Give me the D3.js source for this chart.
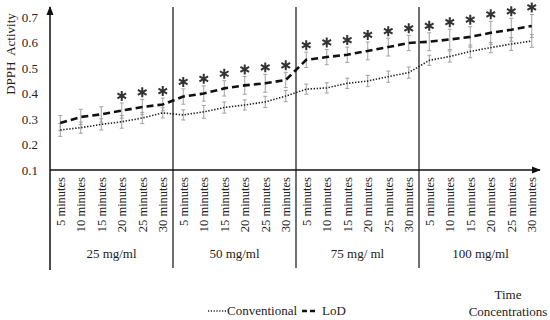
<!DOCTYPE html>
<html>
<head>
<meta charset="utf-8">
<script src="https://cdn.jsdelivr.net/npm/d3@7"></script>
<style>
  body { margin: 0; background: #fff; }
  text { font-family: "Liberation Serif", "Times New Roman", serif; fill: #222; }
</style>
</head>
<body>
<svg id="chart" width="550" height="320"></svg>
<script>
// concentrations and time points
const groups = ["25 mg/ml", "50 mg/ml", "75 mg/ ml", "100 mg/ml"];
const times = ["5 minutes", "10 minutes", "15 minutes", "20 minutes", "25 minutes", "30 minutes"];
const yTicks = [0.1, 0.2, 0.3, 0.4, 0.5, 0.6, 0.7];

// DPPH activity (24 points: 4 groups x 6 times)
const conventional = [0.257, 0.266, 0.279, 0.289, 0.304, 0.324,
                      0.316, 0.328, 0.345, 0.355, 0.367, 0.390,
                      0.417, 0.422, 0.440, 0.449, 0.466, 0.482,
                      0.530, 0.545, 0.565, 0.580, 0.594, 0.606];
const lod = [0.284, 0.308, 0.318, 0.333, 0.347, 0.357,
             0.388, 0.400, 0.420, 0.432, 0.440, 0.453,
             0.532, 0.543, 0.552, 0.567, 0.582, 0.598,
             0.603, 0.612, 0.622, 0.638, 0.650, 0.665];
const convErr = [0.025, 0.022, 0.022, 0.025, 0.022, 0.02,
                 0.02, 0.025, 0.022, 0.02, 0.022, 0.022,
                 0.02, 0.02, 0.02, 0.022, 0.022, 0.022,
                 0.02, 0.022, 0.025, 0.02, 0.025, 0.025];
const lodErr = [0.03, 0.03, 0.03, 0.03, 0.03, 0.025,
                0.03, 0.03, 0.03, 0.035, 0.035, 0.03,
                0.03, 0.03, 0.03, 0.035, 0.035, 0.03,
                0.035, 0.04, 0.04, 0.045, 0.045, 0.045];
const significant = [0, 0, 0, 1, 1, 1,
                     1, 1, 1, 1, 1, 1,
                     1, 1, 1, 1, 1, 1,
                     1, 1, 1, 1, 1, 1];

let svg = d3.select("#chart");
let margin = {left: 50, top: 17, right: 8, bottom: 150};
let width = 550 - margin.left - margin.right;   // 492
let height = 320 - margin.top - margin.bottom;  // 153

let idx = d3.range(groups.length * times.length);
let x = d3.scaleBand().domain(idx).range([margin.left, margin.left + width]);
let y = d3.scaleLinear().domain([0.1, 0.7]).range([margin.top + height, margin.top]);
let cx = (i) => x(i) + x.bandwidth() / 2;
let y0 = y(0.1);

// arrow head
svg.append("defs").append("marker")
    .attr("id", "arrow")
    .attr("viewBox", "0 0 10 10")
    .attr("refX", 9).attr("refY", 5)
    .attr("markerWidth", 6).attr("markerHeight", 6)
    .attr("orient", "auto-start-reverse")
    .append("path").attr("d", "M0,1 L10,5 L0,9 z").attr("fill", "#111");

// y axis: labels only, line drawn separately
svg.append("g")
    .attr("transform", `translate(${margin.left}, 0)`)
    .call(d3.axisLeft(y).tickValues(yTicks).tickFormat(d3.format(".1f")).tickSize(0).tickPadding(12))
    .call(g => g.select(".domain").remove())
    .selectAll("text")
    .style("font-size", "13px")
    .style("font-family", "Liberation Serif")
    .style("fill", "#222");

// left axis line with arrow, also runs down as first separator
svg.append("line")
    .attr("x1", margin.left).attr("x2", margin.left)
    .attr("y1", 270).attr("y2", 7)
    .attr("stroke", "#111").attr("stroke-width", 1.5)
    .attr("marker-end", "url(#arrow)");

// group separators
for (let k = 1; k < groups.length; k++) {
    let xs = x(k * times.length);
    svg.append("line")
        .attr("x1", xs).attr("x2", xs)
        .attr("y1", 7).attr("y2", 268)
        .attr("stroke", "#111").attr("stroke-width", 1.2);
}

// x axis line with arrow
svg.append("line")
    .attr("x1", margin.left).attr("x2", 540)
    .attr("y1", y0).attr("y2", y0)
    .attr("stroke", "#111").attr("stroke-width", 1.5)
    .attr("marker-end", "url(#arrow)");

// time tick labels
svg.append("g").selectAll("text")
    .data(idx)
    .enter()
    .append("text")
    .attr("transform", (d) => `translate(${cx(d)}, ${y0 + 7}) rotate(-90)`)
    .attr("text-anchor", "end")
    .attr("dy", "0.35em")
    .style("font-size", "12.5px")
    .text((d) => times[d % times.length]);

// concentration labels
svg.append("g").selectAll("text")
    .data(groups)
    .enter()
    .append("text")
    .attr("x", (d, k) => (x(k * times.length) + x(k * times.length + times.length - 1) + x.bandwidth()) / 2)
    .attr("y", 258)
    .attr("text-anchor", "middle")
    .style("font-size", "13px")
    .text((d) => d);

// y title
svg.append("text")
    .attr("transform", `translate(15, 54) rotate(-90)`)
    .attr("text-anchor", "middle")
    .style("font-size", "13px")
    .style("white-space", "pre")
    .text("DPPH  Activity");

// error bars
let drawErr = (vals, errs) => {
    let g = svg.append("g").attr("stroke", "#a0a0a0").attr("stroke-width", 1);
    idx.forEach((i) => {
        let top = y(vals[i] + errs[i]);
        let bot = y(vals[i] - errs[i]);
        g.append("line").attr("x1", cx(i)).attr("x2", cx(i)).attr("y1", top).attr("y2", bot);
        g.append("line").attr("x1", cx(i) - 2).attr("x2", cx(i) + 2).attr("y1", top).attr("y2", top);
        g.append("line").attr("x1", cx(i) - 2).attr("x2", cx(i) + 2).attr("y1", bot).attr("y2", bot);
    });
};
drawErr(conventional, convErr);
drawErr(lod, lodErr);

let line = (vals) => d3.line().x((d, i) => cx(i)).y((d) => y(d))(vals);

svg.append("path")
    .attr("d", line(conventional))
    .attr("fill", "none")
    .attr("stroke", "#222")
    .attr("stroke-width", 1.6)
    .attr("stroke-dasharray", "1.4,1.6");

svg.append("path")
    .attr("d", line(lod))
    .attr("fill", "none")
    .attr("stroke", "#111")
    .attr("stroke-width", 2.6)
    .attr("stroke-dasharray", "7,4");

// significance asterisks
let star = d3.symbol().type(d3.symbolAsterisk).size(70);
svg.append("g").selectAll("path")
    .data(idx.filter((i) => significant[i]))
    .enter()
    .append("path")
    .attr("d", star)
    .attr("transform", (i) => `translate(${cx(i)}, ${y(lod[i] + lodErr[i]) - 7})`)
    .attr("fill", "none")
    .attr("stroke", "#333")
    .attr("stroke-width", 2);

// legend
svg.append("line")
    .attr("x1", 208).attr("x2", 226).attr("y1", 311).attr("y2", 311)
    .attr("stroke", "#222").attr("stroke-width", 1.4).attr("stroke-dasharray", "1.2,1.6");
svg.append("text").attr("x", 227).attr("y", 315).style("font-size", "13px").text("Conventional");
svg.append("line")
    .attr("x1", 302).attr("x2", 316).attr("y1", 311).attr("y2", 311)
    .attr("stroke", "#111").attr("stroke-width", 2.4).attr("stroke-dasharray", "5,3");
svg.append("text").attr("x", 322).attr("y", 315).style("font-size", "13px").text("LoD");

svg.append("text").attr("x", 508).attr("y", 299).attr("text-anchor", "middle").style("font-size", "13px").text("Time");
svg.append("text").attr("x", 508).attr("y", 316).attr("text-anchor", "middle").style("font-size", "13px").text("Concentrations");
</script>
</body>
</html>
